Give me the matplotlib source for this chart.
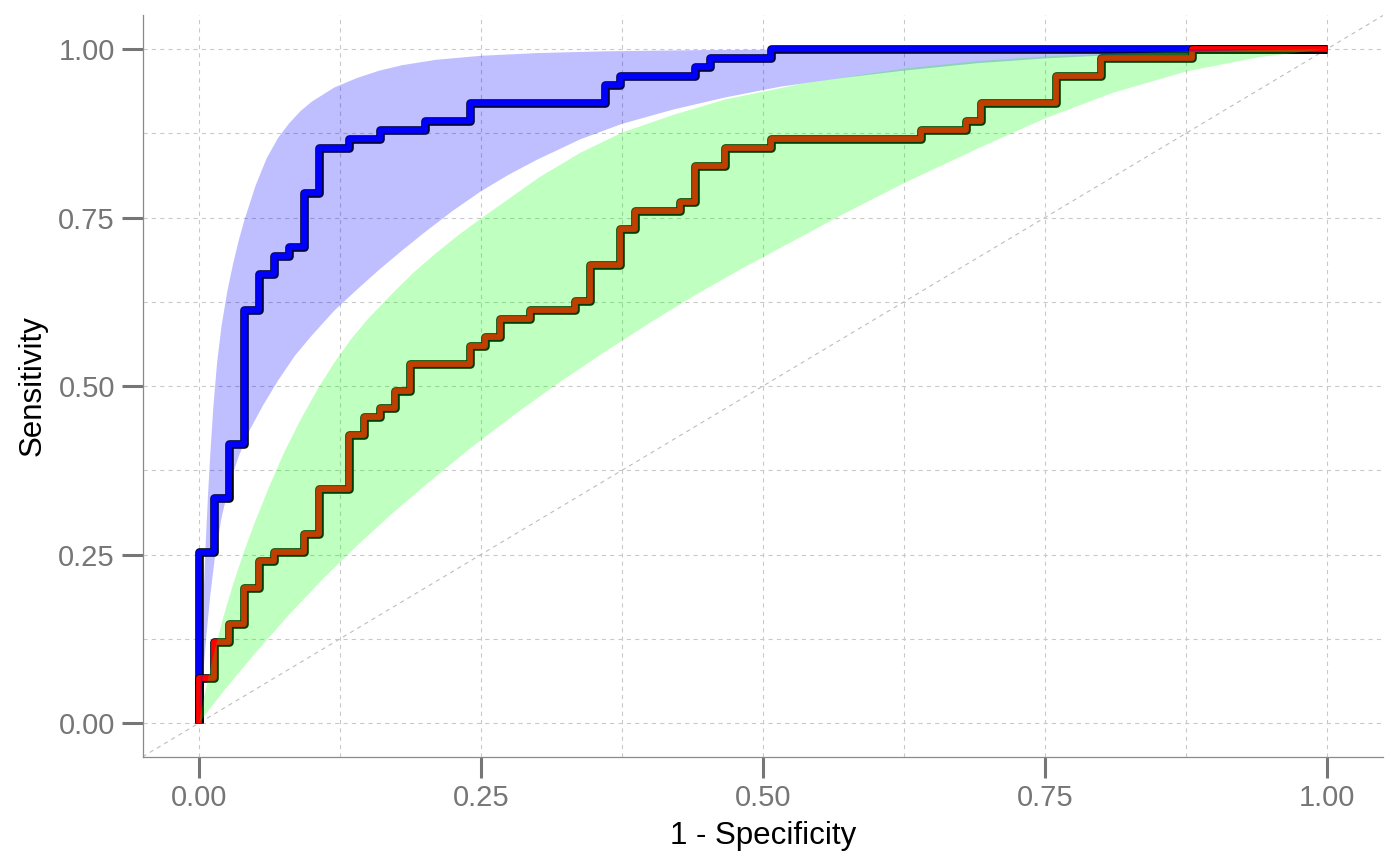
import numpy as np
import matplotlib
matplotlib.use("Agg")
import matplotlib.pyplot as plt
import matplotlib.patheffects as pe

plt.rcParams['font.family'] = ['Liberation Sans', 'DejaVu Sans']
plt.rcParams['lines.scale_dashes'] = False

N = 75.0  # cases per group

# ROC vertices in counts of 1/75 (fpr, tpr)
blue_fpr = [0, 0, 1, 2, 3, 4, 5, 6, 7, 8, 10, 12, 15, 18, 27, 28, 33, 34, 38, 75]
blue_tpr = [0, 19, 25, 31, 46, 50, 52, 53, 59, 64, 65, 66, 67, 69, 71, 72, 73, 74, 75, 75]

red_fpr = [0, 0, 1, 2, 3, 4, 5, 7, 8, 10, 11, 12, 13, 14, 18, 19, 20, 22, 25, 26,
           28, 29, 32, 33, 35, 38, 48, 51, 52, 57, 60, 66, 75]
red_tpr = [0, 5, 9, 11, 15, 18, 19, 21, 26, 32, 34, 35, 37, 40, 42, 43, 45, 46, 47, 51,
           55, 57, 58, 62, 64, 65, 66, 67, 69, 72, 74, 75, 75]

# confidence bands (edges)
blue_up_x = [0, 0.002, 0.004, 0.006, 0.008, 0.010, 0.0127, 0.016, 0.020, 0.025, 0.030, 0.035,
             0.040, 0.050, 0.060, 0.070, 0.080, 0.090, 0.100, 0.120, 0.140, 0.160, 0.180,
             0.210, 0.250, 0.300, 0.360, 0.450, 0.550, 0.700, 1.0]
blue_up_y = [0, 0.10, 0.19, 0.27, 0.34, 0.40, 0.47, 0.535, 0.59, 0.64, 0.68, 0.715,
             0.745, 0.797, 0.838, 0.868, 0.89, 0.908, 0.922, 0.943, 0.957, 0.968, 0.976,
             0.984, 0.990, 0.994, 0.9966, 0.9985, 0.9993, 0.9998, 1.0]

blue_lo_x = [0, 0.003, 0.0068, 0.010, 0.014, 0.020, 0.027, 0.035, 0.045, 0.057, 0.070,
             0.085, 0.100, 0.120, 0.140, 0.160, 0.180, 0.200, 0.225, 0.250, 0.275, 0.300,
             0.338, 0.375, 0.420, 0.466, 0.515, 0.570, 0.625, 0.690, 0.750, 0.810, 0.876,
             0.940, 1.0]
blue_lo_y = [0, 0.06, 0.135, 0.19, 0.245, 0.305, 0.355, 0.395, 0.435, 0.472, 0.508,
             0.545, 0.575, 0.612, 0.643, 0.673, 0.701, 0.728, 0.760, 0.789, 0.814, 0.836,
             0.866, 0.889, 0.910, 0.928, 0.944, 0.957, 0.968, 0.979, 0.986, 0.991, 0.995,
             0.9983, 1.0]

green_up_x = [0, 0.004, 0.010, 0.015, 0.022, 0.030, 0.040, 0.050, 0.062, 0.075, 0.090,
              0.105, 0.120, 0.135, 0.150, 0.170, 0.190, 0.210, 0.230, 0.252, 0.302, 0.338,
              0.375, 0.420, 0.466, 0.533, 0.580, 0.625, 0.690, 0.750, 0.810, 0.876, 0.940, 1.0]
green_up_y = [0, 0.035, 0.08, 0.115, 0.16, 0.205, 0.255, 0.30, 0.35, 0.40, 0.45,
              0.495, 0.535, 0.57, 0.60, 0.635, 0.668, 0.697, 0.724, 0.751, 0.81, 0.846,
              0.876, 0.902, 0.925, 0.948, 0.960, 0.971, 0.982, 0.989, 0.993, 0.9965, 0.9988, 1.0]

green_lo_x = [0, 0.015, 0.030, 0.050, 0.080, 0.110, 0.140, 0.170, 0.200, 0.240, 0.280,
              0.320, 0.360, 0.400, 0.440, 0.480, 0.520, 0.570, 0.625, 0.690, 0.750, 0.810,
              0.876, 0.940, 1.0]
green_lo_y = [0, 0.033, 0.064, 0.104, 0.161, 0.214, 0.263, 0.309, 0.352, 0.407, 0.458,
              0.506, 0.551, 0.594, 0.635, 0.673, 0.709, 0.754, 0.801, 0.852, 0.897, 0.935,
              0.967, 0.988, 1.0]

fig = plt.figure(figsize=(14, 8.66), dpi=100)
ax = fig.add_axes([0.1019, 0.1262, 0.8862, 0.8561])

ax.set_xlim(-0.05, 1.05)
ax.set_ylim(-0.05, 1.05)
ticks = [0, 0.25, 0.5, 0.75, 1.0]
minor = [0.125, 0.375, 0.625, 0.875]
ax.set_xticks(ticks)
ax.set_yticks(ticks)
ax.set_xticks(minor, minor=True)
ax.set_yticks(minor, minor=True)
ax.set_xticklabels([f"{t:.2f}" for t in ticks])
ax.set_yticklabels([f"{t:.2f}" for t in ticks])
ax.grid(which='both', color='#c9c9c9', linestyle=(0, (3, 3)), linewidth=0.8, zorder=0)
ax.set_axisbelow(True)

# reference diagonal
ax.axline((0, 0), (1, 1), color='#bdbdbd', linestyle=(0, (3, 3)), linewidth=0.8, zorder=1)

for s in ['top', 'right']:
    ax.spines[s].set_visible(False)
for s in ['left', 'bottom']:
    ax.spines[s].set_color('#8a8a8a')
    ax.spines[s].set_linewidth(0.9)
ax.tick_params(which='major', length=15, width=2.2, color='#767676',
               labelcolor='#767676', labelsize=21, pad=5)
ax.tick_params(which='minor', length=0)

outline = lambda c: [pe.Stroke(linewidth=6.2, foreground=c, joinstyle='round', capstyle='butt'),
                     pe.Normal()]

bx = np.array(blue_fpr) / N
by = np.array(blue_tpr) / N
ax.plot(bx, by, drawstyle='steps-post', color='#0000ff', lw=4.2,
        solid_joinstyle='round', solid_capstyle='butt',
        path_effects=outline('black'), zorder=3)
rx = np.array(red_fpr) / N
ry = np.array(red_tpr) / N
ax.plot(rx, ry, drawstyle='steps-post', color='#ff0000', lw=4.2,
        solid_joinstyle='round', solid_capstyle='butt',
        path_effects=outline('black'), zorder=4)

# bands drawn over the curves, as in the original
ax.fill(np.concatenate([blue_up_x, blue_lo_x[::-1]]),
        np.concatenate([blue_up_y, blue_lo_y[::-1]]),
        color='#0000ff', alpha=0.25, lw=0, zorder=5)
ax.fill(np.concatenate([green_up_x, green_lo_x[::-1]]),
        np.concatenate([green_up_y, green_lo_y[::-1]]),
        color='#00ff00', alpha=0.25, lw=0, zorder=6)

ax.set_xlabel("1 - Specificity", fontsize=22.5, color='black', labelpad=6)
ax.set_ylabel("Sensitivity", fontsize=22.5, color='black', labelpad=8)

fig.savefig("out.png", dpi=100, facecolor='white')
